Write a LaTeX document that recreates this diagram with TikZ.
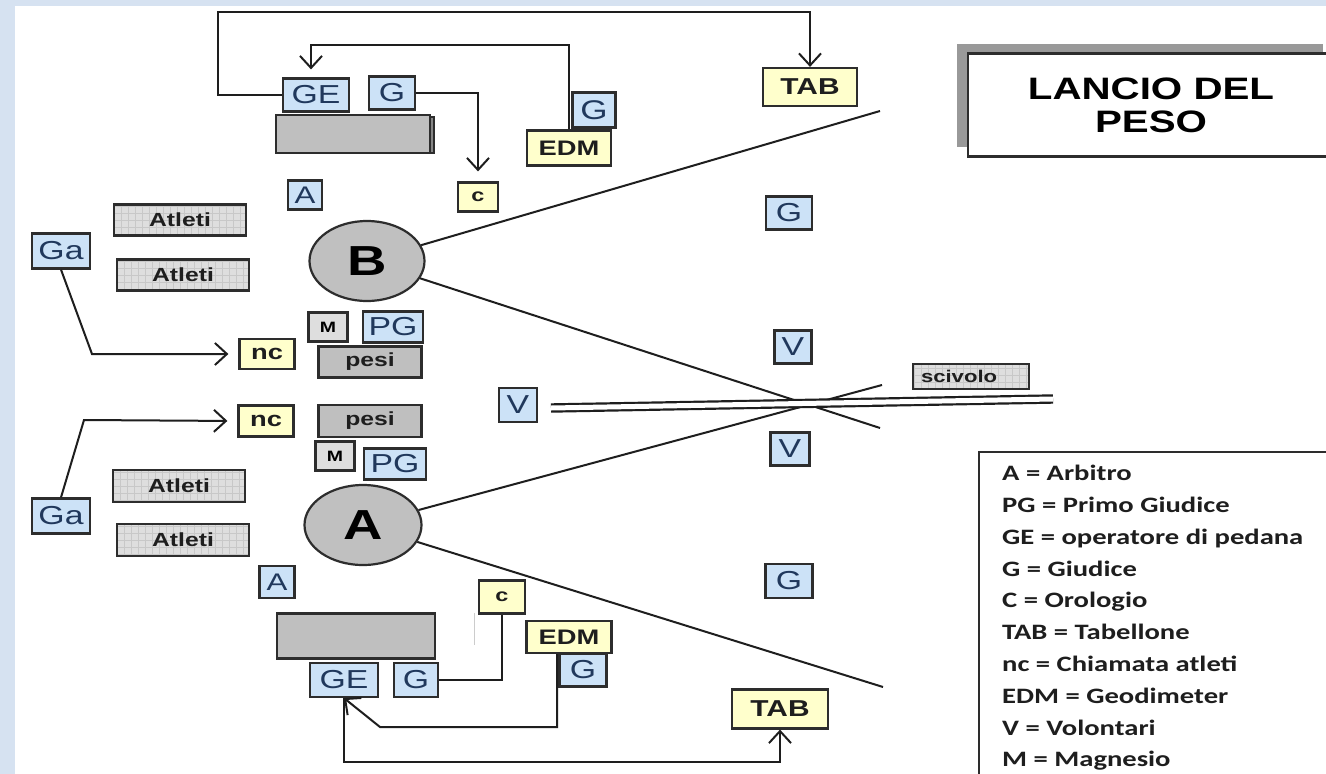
\documentclass[tikz,border=0pt]{standalone}
\usepackage{fontspec}
\setmainfont[FakeStretch=1.3]{Liberation Sans}
\newfontfamily\legendfont[FakeStretch=1.3]{Carlito}
\usetikzlibrary{arrows.meta}
\usetikzlibrary{shapes.geometric}
\usetikzlibrary{shadows}

\definecolor{bgblue}{RGB}{214,226,241}
\definecolor{bluefill}{RGB}{204,226,247}
\definecolor{bluetext}{RGB}{32,56,92}
\definecolor{yellowfill}{RGB}{255,255,204}
\definecolor{grayfill}{RGB}{191,191,191}
\definecolor{lightfill}{RGB}{222,222,222}
\definecolor{gridline}{RGB}{200,200,200}
\definecolor{circlefill}{RGB}{192,192,192}
\definecolor{boxline}{RGB}{45,45,45}
\definecolor{darktext}{RGB}{30,30,30}

\begin{document}
\begin{tikzpicture}[x=1pt, y=-1pt,
        box/.style={draw=boxline, line width=2.2pt, inner sep=0pt},
        bluebox/.style={box, fill=bluefill, text=bluetext, font=\fontsize{26}{26}\selectfont},
        yellowbox/.style={box, fill=yellowfill, text=darktext, font=\bfseries\fontsize{21}{21}\selectfont},
        graybox/.style={box, fill=grayfill, text=darktext, font=\bfseries\fontsize{19}{19}\selectfont},
        gridpaper/.style={fill=lightfill, path picture={\draw[gridline, line width=0.5pt] (path picture bounding box.south west) grid[step=7pt] (path picture bounding box.north east);}},
        atleti/.style={box, gridpaper, text=darktext, minimum width=132pt, minimum height=31pt, font=\bfseries\fontsize{19}{19}\selectfont},
        pedana/.style={ellipse, draw=boxline, line width=2.2pt, fill=circlefill, minimum width=115pt, minimum height=80pt, inner sep=0pt, font=\bfseries\fontsize{42}{42}\selectfont},
        link/.style={draw=darktext, line width=2pt},
        arr/.style={link, -{Straight Barb[length=12pt,width=22pt]}}]

        \useasboundingbox (0,0) rectangle (1326,774);
        \clip (0,0) rectangle (1326,774);
        \fill[bgblue] (0,0) rectangle (1326,774);
        \fill[white] (15,6) rectangle (1326,774);

        \node[box, line width=2.5pt, fill=white, minimum width=366pt, minimum height=103pt, font=\bfseries\fontsize{31}{33}\selectfont, align=center, drop shadow={shadow xshift=-11pt, shadow yshift=10pt, fill=gray!80, opacity=1}] (title) at (1151,105) {LANCIO DEL\\PESO};

        \node[box, fill=grayfill!70!black, minimum width=158pt, minimum height=36pt] (bench1s) at (355,135) {};
        \node[box, fill=grayfill, minimum width=154pt, minimum height=38pt] (bench1) at (353,134) {};
        \node[bluebox, minimum width=66pt, minimum height=33pt] (ge1) at (316,95) {GE};
        \node[bluebox, minimum width=46pt, minimum height=33pt] (g1) at (392,93) {G};
        \node[bluebox, minimum width=34pt, minimum height=29pt, font=\fontsize{24}{24}\selectfont] (a1) at (305,195) {A};
        \node[bluebox, minimum width=43pt, minimum height=35pt, font=\fontsize{27}{27}\selectfont] (g2) at (594,110) {G};
        \node[yellowbox, minimum width=84pt, minimum height=35pt] (edm1) at (569,148) {EDM};
        \node[yellowbox, minimum width=94pt, minimum height=38pt, font=\bfseries\fontsize{23}{23}\selectfont] (tab1) at (810,87) {TAB};
        \node[yellowbox, minimum width=40pt, minimum height=29pt, font=\bfseries\fontsize{18}{18}\selectfont] (c1) at (478,197) {c};
        \node[bluebox, minimum width=46pt, minimum height=33pt] (g3) at (789,213) {G};

        \node[atleti] (at1) at (180,220) {Atleti};
        \node[atleti] (at2) at (183,275) {Atleti};
        \node[bluebox, minimum width=58pt, minimum height=35pt] (ga1) at (61,251) {Ga};
        \node[pedana] (B) at (367,261) {B};
        \node[box, fill=lightfill, minimum width=39pt, minimum height=29pt, font=\bfseries\fontsize{15}{15}\selectfont] (m1) at (328,327) {M};
        \node[bluebox, minimum width=60pt, minimum height=31pt] (pg1) at (393,327) {PG};
        \node[graybox, minimum width=103pt, minimum height=31pt] (pesi1) at (370,362) {pesi};
        \node[yellowbox, minimum width=55pt, minimum height=30pt] (nc1) at (267,354) {nc};

        \node[bluebox, minimum width=38pt, minimum height=34pt] (v1) at (518,405) {V};
        \node[bluebox, minimum width=37pt, minimum height=33pt] (v2) at (793,347) {V};
        \node[bluebox, minimum width=39pt, minimum height=33pt] (v3) at (790,449) {V};
        \node[box, gridpaper, line width=2pt, text=darktext, text width=100pt, inner xsep=8pt, minimum height=25pt, font=\bfseries\fontsize{17}{17}\selectfont] (scivolo) at (971,376) {scivolo};

        \node[yellowbox, minimum width=55pt, minimum height=31pt] (nc2) at (266,421) {nc};
        \node[graybox, minimum width=103pt, minimum height=32pt] (pesi2) at (370,421) {pesi};
        \node[box, fill=lightfill, minimum width=39pt, minimum height=29pt, font=\bfseries\fontsize{15}{15}\selectfont] (m2) at (335,456) {M};
        \node[bluebox, minimum width=62pt, minimum height=31pt] (pg2) at (395,464) {PG};
        \node[atleti, minimum height=32pt] (at3) at (179,486) {Atleti};
        \node[atleti, minimum height=32pt] (at4) at (183,540) {Atleti};
        \node[bluebox, minimum width=58pt, minimum height=35pt] (ga2) at (61,516) {Ga};
        \node[pedana, minimum width=117pt] (A) at (363,525) {A};

        \node[bluebox, minimum width=35pt, minimum height=32pt, font=\fontsize{24}{24}\selectfont] (a2) at (277,582) {A};
        \node[box, fill=grayfill, minimum width=158pt, minimum height=45pt] (bench2) at (356,636) {};
        \node[bluebox, minimum width=68pt, minimum height=34pt] (ge2) at (344,680) {GE};
        \node[bluebox, minimum width=44pt, minimum height=34pt] (g4) at (416,680) {G};
        \node[yellowbox, minimum width=46pt, minimum height=33pt, font=\bfseries\fontsize{18}{18}\selectfont] (c2) at (502,597) {c};
        \node[bluebox, minimum width=47pt, minimum height=33pt] (g5) at (583,670) {G};
        \node[yellowbox, minimum width=85pt, minimum height=32pt] (edm2) at (569,637) {EDM};
        \node[bluebox, minimum width=47pt, minimum height=34pt] (g6) at (789,581) {G};
        \node[yellowbox, minimum width=96pt, minimum height=39pt, font=\bfseries\fontsize{23}{23}\selectfont] (tab2) at (780,709) {TAB};

        \node[draw=boxline, line width=1.5pt, anchor=north west, minimum width=380pt, minimum height=340pt] (legend) at (978,451) {};
        \node[anchor=north west, inner sep=0pt, align=left, text=darktext, font=\legendfont\bfseries\fontsize{22}{31.8}\selectfont] (legendtext) at (1002,465) {A = Arbitro\\PG = Primo Giudice\\GE = operatore di pedana\\G = Giudice\\C = Orologio\\TAB = Tabellone\\nc = Chiamata atleti\\EDM = Geodimeter\\V = Volontari\\M = Magnesio};

        \coordinate (loop1) at (218,12);
        \coordinate (loop2) at (569,45);
        \coordinate (bend1) at (92,354);
        \coordinate (bend2) at (84,420);
        \coordinate (edmdrop) at (557,727);
        \coordinate (edmbend) at (380,727);
        \coordinate (tabloop) at (345,762);
        \coordinate (sectorB1) at (880,111);
        \coordinate (sectorB2) at (880,428);
        \coordinate (sectorA1) at (882,385);
        \coordinate (sectorA2) at (883,687);
        \coordinate (runup1) at (551,408);
        \coordinate (runup2) at (1053,399);

        \draw[arr] (ge1.west) -| (loop1) -| (tab1.north);
        \draw[arr, shorten >=8pt] (edm1.north) |- (loop2) -| ([xshift=-5pt]ge1.north);
        \draw[arr, shorten >=10pt] (g1.east) -| (c1.north);
        \draw[arr, shorten >=10pt] (ga1.south) -- (bend1) -- (nc1.west);
        \draw[arr, shorten >=10pt] (ga2.north) -- (bend2) -- (nc2.west);
        \draw[link] (g4.east) -| (c2.south);
        \draw[arr] ([xshift=-12pt]edm2.south) -- (edmdrop) -- (edmbend) -- (ge2.south);
        \draw[arr] (ge2.south) |- (tabloop) -| (tab2.south);

        \draw[link] (B) -- (sectorB1);
        \draw[link] (B) -- (sectorB2);
        \draw[link] (A) -- (sectorA1);
        \draw[link] (A) -- (sectorA2);
        \draw[darktext, line width=2.2pt, double, double distance=5pt] (runup1) -- (runup2);
        \draw[gray!40, line width=1pt] (474,613) -- (474,645);
    \end{tikzpicture}
\end{document}
